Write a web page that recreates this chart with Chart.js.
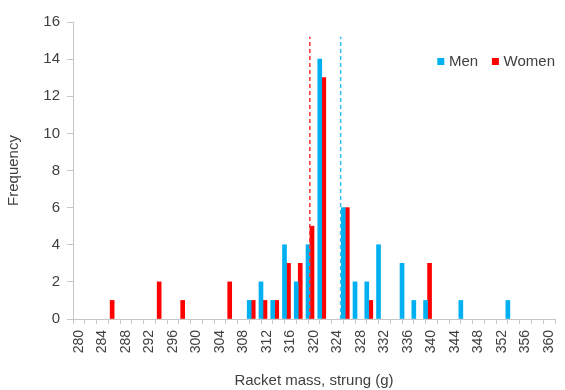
<!DOCTYPE html>
<html>
<head>
<meta charset="utf-8">
<script src="https://cdn.jsdelivr.net/npm/chart.js@4/dist/chart.umd.min.js"></script>
<style>
  html, body { margin: 0; padding: 0; background: #ffffff; }
  #wrap { width: 565px; height: 390px; }
</style>
</head>
<body>
<div id="wrap"><canvas id="chart" width="565" height="390"></canvas></div>
<script>
// Strung racket mass bins (g), 2 g wide
const massBins = [280, 282, 284, 286, 288, 290, 292, 294, 296, 298,
                  300, 302, 304, 306, 308, 310, 312, 314, 316, 318,
                  320, 322, 324, 326, 328, 330, 332, 334, 336, 338,
                  340, 342, 344, 346, 348, 350, 352, 354, 356, 358,
                  360];
const menCounts = [0, 0, 0, 0, 0, 0, 0, 0, 0, 0,
                   0, 0, 0, 0, 0, 1, 2, 1, 4, 2,
                   4, 14, 0, 6, 2, 2, 4, 0, 3, 1,
                   1, 0, 0, 1, 0, 0, 0, 1, 0, 0,
                   0];
const womenCounts = [0, 0, 0, 1, 0, 0, 0, 2, 0, 1,
                     0, 0, 0, 2, 0, 1, 1, 1, 3, 3,
                     5, 13, 0, 6, 0, 1, 0, 0, 0, 0,
                     3, 0, 0, 0, 0, 0, 0, 0, 0, 0,
                     0];
const seriesNames = ['Men', 'Women'];
// Mean mass per group and the height of the dashed marker
const meanMen = 325.1;
const meanWomen = 319.2;
const meanLineTop = 15.2;
const frequencyTicks = { min: 0, max: 16, step: 2 };

const FONT = "'Liberation Sans', Arial, sans-serif";
const TEXT = '#404040';
const AXIS = '#c6c6c6';
const seriesColors = ['#00b0f0', '#ff0000'];

// Empty bins get no visible sliver on the baseline
const binFill = color => ctx => (ctx.raw ? color : 'rgba(0,0,0,0)');

// Small legend placed inside the plot area, top right
const innerLegend = {
  id: 'innerLegend',
  afterDraw(chart) {
    const ctx = chart.ctx;
    const area = chart.chartArea;
    const box = 7, gap = 4.7, between = 13.7;
    ctx.save();
    ctx.font = '15px ' + FONT;
    let total = 0;
    seriesNames.forEach((name, i) => {
      total += box + gap + ctx.measureText(name).width + (i < seriesNames.length - 1 ? between : 0);
    });
    let x = area.right - total;
    const y = area.top + 39.5;
    ctx.textBaseline = 'middle';
    ctx.textAlign = 'left';
    seriesNames.forEach((name, i) => {
      ctx.fillStyle = seriesColors[i];
      ctx.fillRect(x, y - box / 2, box, box);
      ctx.fillStyle = TEXT;
      ctx.fillText(name, x + box + gap, y + 0.5);
      x += box + gap + ctx.measureText(name).width + between;
    });
    ctx.restore();
  }
};

new Chart(document.getElementById('chart'), {
  type: 'bar',
  data: {
    labels: massBins,
    datasets: [
      {
        type: 'bar', label: seriesNames[0], data: menCounts,
        backgroundColor: binFill(seriesColors[0]), borderWidth: 0, barThickness: 4, order: 2
      },
      {
        type: 'bar', label: seriesNames[1], data: womenCounts,
        backgroundColor: binFill(seriesColors[1]), borderWidth: 0, barThickness: 4, order: 2
      },
      {
        type: 'line', label: 'mean ' + seriesNames[1], xAxisID: 'xMass',
        data: [{ x: meanWomen, y: 0 }, { x: meanWomen, y: meanLineTop }],
        borderColor: '#ff3030', borderWidth: 1.5, borderDash: [4, 3],
        pointRadius: 0, fill: false, order: 1
      },
      {
        type: 'line', label: 'mean ' + seriesNames[0], xAxisID: 'xMass',
        data: [{ x: meanMen, y: 0 }, { x: meanMen, y: meanLineTop }],
        borderColor: '#30bdf2', borderWidth: 1.5, borderDash: [4, 3],
        pointRadius: 0, fill: false, order: 1
      }
    ]
  },
  options: {
    responsive: false,
    animation: false,
    devicePixelRatio: 1,
    layout: { padding: { top: 22, right: 10, bottom: 0, left: 0 } },
    plugins: {
      legend: { display: false },
      tooltip: { enabled: false }
    },
    scales: {
      x: {
        type: 'category',
        offset: true,
        grid: { display: true, offset: true, drawOnChartArea: false, drawTicks: true, tickLength: 5, color: AXIS },
        border: { display: true, color: AXIS, width: 1 },
        ticks: {
          autoSkip: false, minRotation: 90, maxRotation: 90, padding: 6,
          color: TEXT, font: { family: FONT, size: 14 },
          callback: function (value, index) {
            return index % 2 === 0 ? String(this.getLabelForValue(value)) : '';
          }
        },
        title: {
          display: true, text: 'Racket mass, strung (g)', color: TEXT,
          font: { family: FONT, size: 15 }, padding: { top: 0, bottom: 0 }
        },
        afterFit(scale) {
          scale.height = 71;
          scale.paddingLeft = 0;
          scale.paddingRight = 0;
        }
      },
      xMass: {
        type: 'linear', display: false,
        min: massBins[0] - 1, max: massBins[massBins.length - 1] + 1
      },
      y: {
        min: frequencyTicks.min, max: frequencyTicks.max,
        grid: { display: true, drawOnChartArea: false, drawTicks: true, tickLength: 6, color: AXIS },
        border: { display: true, color: AXIS, width: 1 },
        ticks: {
          stepSize: frequencyTicks.step, padding: 7,
          color: TEXT, font: { family: FONT, size: 15 }
        },
        title: {
          display: true, text: 'Frequency', color: TEXT,
          font: { family: FONT, size: 15 }, padding: { top: 5, bottom: 0 }
        },
        afterFit(scale) { scale.width = 73; }
      }
    }
  },
  plugins: [innerLegend]
});
</script>
</body>
</html>
